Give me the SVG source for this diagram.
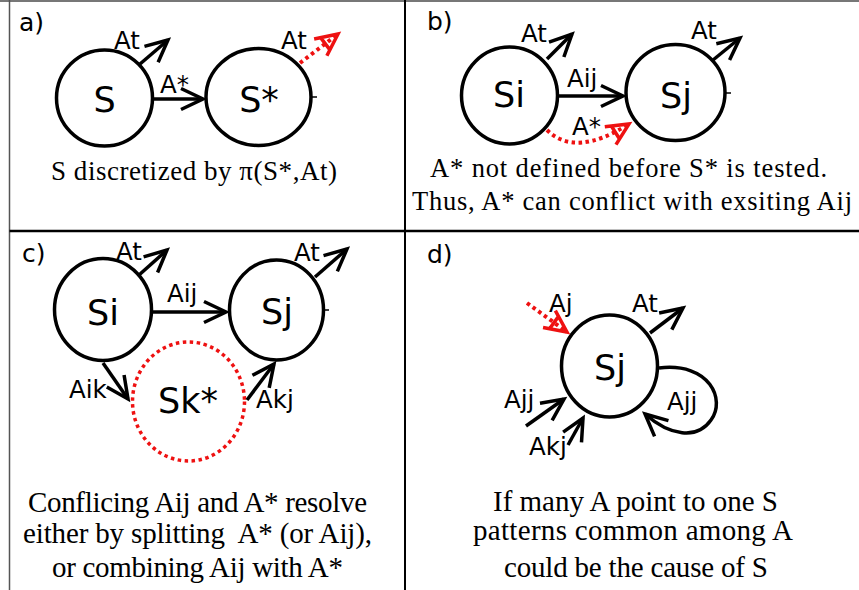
<svg xmlns="http://www.w3.org/2000/svg" width="859" height="590" viewBox="0 0 859 590">
<defs>
<style>
.n{fill:none;stroke:#000;stroke-width:3.5}
.rd{fill:none;stroke:#ee1111;stroke-width:3.5;stroke-dasharray:3.5 3.5}
.e{fill:none;stroke:#000;stroke-width:3.5;marker-end:url(#ah)}
.er{fill:none;stroke:#ee1111;stroke-width:4;stroke-dasharray:3.5 3.5;marker-end:url(#ahr)}
.lb{font-family:"DejaVu Sans",Verdana,sans-serif;font-size:24.5px;fill:#000}
.pl{font-family:"DejaVu Sans",Verdana,sans-serif;font-size:25px;fill:#000}
.nl{font-family:"DejaVu Sans",Verdana,sans-serif;font-size:35px;fill:#000;text-anchor:middle}
.cap{font-family:"Liberation Serif","Times New Roman",serif;fill:#000}
.tk{stroke:#000;stroke-width:1.5}
</style>
<marker id="ah" markerUnits="userSpaceOnUse" markerWidth="30" markerHeight="24" viewBox="0 0 30 24" refX="24" refY="12" orient="auto" overflow="visible">
<path d="M2,1.5 L24,12 L2,22.5" fill="none" stroke="#000" stroke-width="3.5"/>
</marker>
<marker id="ahr" markerUnits="userSpaceOnUse" markerWidth="30" markerHeight="24" viewBox="0 0 30 24" refX="24" refY="12" orient="auto" overflow="visible">
<path d="M2,1.5 L24,12 L2,22.5 M8,4 L8,20" fill="none" stroke="#ee1111" stroke-width="3.5"/>
</marker>
</defs>
<rect width="859" height="590" fill="#fff"/>
<g id="frame">
<line x1="0" y1="1" x2="859" y2="1" stroke="#777" stroke-width="2"/>
<line x1="9.5" y1="0" x2="9.5" y2="590" stroke="#555" stroke-width="1.5"/>
<line x1="405" y1="0" x2="405" y2="590" stroke="#000" stroke-width="2"/>
<line x1="9.5" y1="231" x2="859" y2="231" stroke="#000" stroke-width="2.5"/>
</g>
<g id="panel-a">
<text class="pl" x="19" y="31">a)</text>
<g id="a-S"><circle class="n" cx="104.5" cy="98" r="48"/><text class="nl" x="104.5" y="112">S</text></g>
<g id="a-Sstar"><ellipse class="n" cx="258.5" cy="97" rx="52.5" ry="48.5"/><text class="nl" x="259" y="112">S*</text><line class="tk" x1="312" y1="97" x2="317" y2="97"/></g>
<g id="a-edges">
<path class="e" d="M154,99 L203,99"/>
<text class="lb" x="160" y="93">A*</text>
<path class="e" d="M140,64 L168,40"/>
<text class="lb" x="114" y="49">At</text>
<path class="er" d="M300,63 L338,34"/>
<text class="lb" x="281" y="49">At</text>
</g>
<text class="cap" x="51" y="180" font-size="27" textLength="286">S discretized by π(S*,At)</text>
</g>
<g id="panel-b">
<text class="pl" x="427" y="30">b)</text>
<g id="b-Si"><ellipse class="n" cx="509.5" cy="95.5" rx="48" ry="48.5"/><text class="nl" x="509" y="107">Si</text></g>
<g id="b-Sj"><ellipse class="n" cx="675.5" cy="92.5" rx="49.5" ry="48"/><text class="nl" x="676" y="108">Sj</text><line class="tk" x1="726" y1="93" x2="731" y2="93"/></g>
<g id="b-edges">
<path class="e" d="M559,96 L623,96"/>
<text class="lb" x="567" y="87">Aij</text>
<path class="e" d="M547,59 L572,34"/>
<text class="lb" x="521" y="42">At</text>
<path class="e" d="M713,60 L740,38"/>
<text class="lb" x="691" y="39">At</text>
<path class="er" d="M547,130 Q575,158 629,124"/>
<text class="lb" x="572" y="135">A*</text>
</g>
<text class="cap" x="430" y="177" font-size="26.5" textLength="397">A* not defined before S* is tested.</text>
<text class="cap" x="412" y="210" font-size="26.5" textLength="440">Thus, A* can conflict with exsiting Aij</text>
</g>
<g id="panel-c">
<text class="pl" x="22" y="262">c)</text>
<g id="c-Si"><ellipse class="n" cx="103" cy="309.5" rx="48.5" ry="51"/><text class="nl" x="103" y="325">Si</text></g>
<g id="c-Sj"><ellipse class="n" cx="276.5" cy="310" rx="47" ry="50"/><text class="nl" x="277" y="324">Sj</text><line class="tk" x1="324" y1="310" x2="329" y2="310"/></g>
<g id="c-Sk"><ellipse class="rd" cx="188.5" cy="401.5" rx="56" ry="59.5"/><text class="nl" x="188" y="413">Sk*</text></g>
<g id="c-edges">
<path class="e" d="M153,312 L226,312"/>
<text class="lb" x="167" y="302">Aij</text>
<path class="e" d="M139,275 L167,250"/>
<text class="lb" x="116" y="260">At</text>
<path class="e" d="M315,277 L347,249"/>
<text class="lb" x="294" y="261">At</text>
<path class="e" d="M103,363 L128,399"/>
<text class="lb" x="69" y="398">Aik</text>
<path class="e" d="M247,400 L274,364"/>
<text class="lb" x="256" y="408">Akj</text>
</g>
<text class="cap" x="28" y="512" font-size="29" textLength="339">Conflicing Aij and A* resolve</text>
<text class="cap" x="23" y="543" font-size="29" textLength="349" xml:space="preserve">either by splitting  A* (or Aij),</text>
<text class="cap" x="52" y="577" font-size="29" textLength="291">or combining Aij with A*</text>
</g>
<g id="panel-d">
<text class="pl" x="427" y="263">d)</text>
<g id="d-Sj"><ellipse class="n" cx="609.5" cy="366" rx="48" ry="51"/><text class="nl" x="610" y="380">Sj</text></g>
<g id="d-edges">
<path class="er" d="M527,303 L567,332"/>
<text class="lb" x="549" y="312">Aj</text>
<path class="e" d="M650,333 L683,308"/>
<text class="lb" x="632" y="312">At</text>
<path class="e" d="M659,368 C710,362 726,400 711,420 C697,440 670,436 645,414"/>
<text class="lb" x="667" y="410">Ajj</text>
<path class="e" d="M526,426 L564,399"/>
<text class="lb" x="504" y="408">Ajj</text>
<path class="e" d="M568,445 L583,418"/>
<text class="lb" x="529" y="455">Akj</text>
</g>
<text class="cap" x="493" y="511" font-size="29" textLength="285">If many A point to one S</text>
<text class="cap" x="473" y="540" font-size="29" textLength="320">patterns common among A</text>
<text class="cap" x="504" y="577" font-size="29" textLength="264">could be the cause of S</text>
</g>
</svg>
